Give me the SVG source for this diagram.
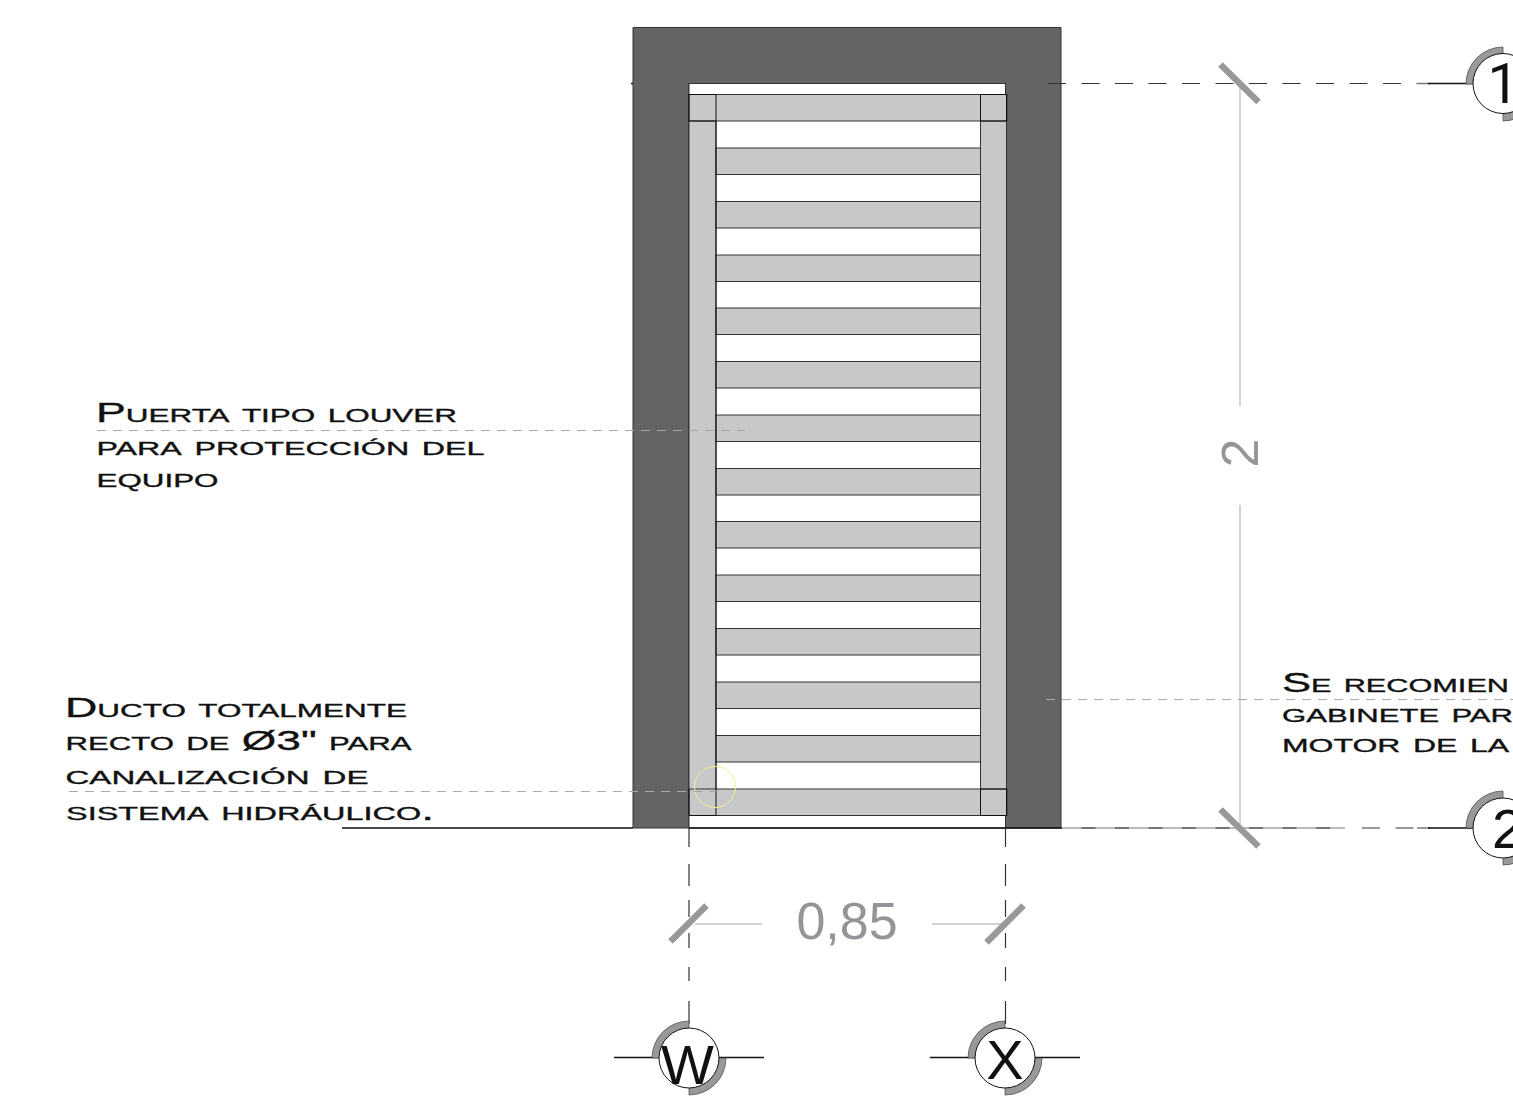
<svg xmlns="http://www.w3.org/2000/svg" width="1513" height="1120" viewBox="0 0 1513 1120">
<style>
.bar{fill:#c7c8ca;stroke:#333;stroke-width:1}
.thin{fill:none;stroke:#111;stroke-width:1}
.dashgray{fill:none;stroke:#777;stroke-width:1}
.dash{fill:none;stroke:#333;stroke-width:1.2}
.lead{fill:none;stroke:#a8a8a8;stroke-width:1;stroke-dasharray:9 7}
.dim{fill:none;stroke:#aaa;stroke-width:1}
.tick{fill:none;stroke:#999;stroke-width:6.500}
.note{font-family:"Liberation Sans",Arial,sans-serif;font-variant:small-caps;font-size:27px;fill:#111;stroke:#111;stroke-width:.35}
.tag{font-family:"Liberation Sans",Arial,sans-serif;font-size:56px;fill:#111}
.mid{text-anchor:middle}
.arc{fill:#999;stroke:#444;stroke-width:.7}
.bub{fill:#fff;stroke:#111;stroke-width:1}
.ax{fill:none;stroke:#111;stroke-width:1.500}
.axg{fill:none;stroke:#777;stroke-width:1.500}
</style>
<rect width="1513" height="1120" fill="#fff"/>
<g id="muro">
<path d="M633 27.500H1061V828H1005.500V83.500H689V828H633Z" fill="#636466" stroke="#333" stroke-width="1"/>
<rect x="689" y="83.500" width="316.500" height="744.500" fill="#fff" stroke="#333" stroke-width="1"/>
</g>
<g id="puerta">
<rect class="bar" x="689" y="94.500" width="27" height="721"/>
<rect class="bar" x="980.500" y="94.500" width="26" height="721"/>
<rect class="bar" x="689" y="94.500" width="318" height="26.500"/>
<rect class="bar" x="716" y="148" width="264.500" height="26.500"/>
<rect class="bar" x="716" y="201.500" width="264.500" height="26.500"/>
<rect class="bar" x="716" y="255" width="264.500" height="26.500"/>
<rect class="bar" x="716" y="308" width="264.500" height="26.500"/>
<rect class="bar" x="716" y="361.500" width="264.500" height="26.500"/>
<rect class="bar" x="716" y="415" width="264.500" height="26.500"/>
<rect class="bar" x="716" y="468.500" width="264.500" height="26.500"/>
<rect class="bar" x="716" y="521.500" width="264.500" height="26.500"/>
<rect class="bar" x="716" y="575" width="264.500" height="26.500"/>
<rect class="bar" x="716" y="628.500" width="264.500" height="26.500"/>
<rect class="bar" x="716" y="682" width="264.500" height="26.500"/>
<rect class="bar" x="716" y="735.500" width="264.500" height="26.500"/>
<rect class="bar" x="689" y="789" width="318" height="26.500"/>
<path class="thin" d="M689 94.500V121H716V94.500M689 94.500H716M716 121V815.500M980.500 94.500V121H1006.500V94.500H980.500M689 789V815.500H716M980.500 789V815.500H1006.500V789H980.500"/>
<circle cx="715" cy="787" r="20.500" fill="none" stroke="#f5f08a" stroke-width="1"/>
</g>
<g id="conectores">
<path class="ax" d="M342 828H633M689 828H1062M631 83.500H633"/>
<path class="dash" stroke-dasharray="18 15.500" d="M1048 83.500H1428"/>
<path class="dashgray" d="M1062 828H1345"/>
<path class="dash" stroke-dasharray="14 19.500" d="M1081.500 828H1345"/>
<path class="dash" stroke-dasharray="18 15.500" d="M1362 828H1428"/>
<path class="dash" d="M689 828V847M689 864V886M689 900V917M689 933V948M689 967V981M689 1001V1024"/>
<path class="dash" d="M1005.500 828V847M1005.500 864V886M1005.500 900V917M1005.500 933V948M1005.500 967V981M1005.500 1001V1024"/>
<path class="dim" d="M1240 83.500V406M1240 505V828"/>
<path class="dim" d="M695 924H762M932 924H1005.500"/>
<path class="tick" d="M1220.500 64.500L1258.500 102M1220.500 809.500L1258.500 846.500M670.500 941.500L706.500 905.500M986.500 942.500L1023.500 905.500"/>
<path class="lead" d="M97 430.500H745"/>
<path class="lead" d="M69 791.500H716"/>
<path class="lead" d="M1046 699.500H1513"/>
</g>
<g id="cota-085"><text x="847" y="939" font-family="'Liberation Sans',Arial,sans-serif" font-size="52" fill="#939598" text-anchor="middle">0,85</text></g>
<g id="cota-2"><text transform="translate(1258 453) rotate(-90)" font-family="'Liberation Sans',Arial,sans-serif" font-size="52" fill="#939598" text-anchor="middle">2</text></g>
<g id="nota-puerta">
<text class="note" x="96" y="421.500" textLength="361" lengthAdjust="spacingAndGlyphs">Puerta tipo louver</text>
<text class="note" x="96.500" y="454.500" textLength="388" lengthAdjust="spacingAndGlyphs">para protección del</text>
<text class="note" x="96.500" y="487" textLength="122" lengthAdjust="spacingAndGlyphs">equipo</text>
</g>
<g id="nota-ducto">
<text class="note" x="65" y="717" textLength="342" lengthAdjust="spacingAndGlyphs">Ducto totalmente</text>
<text class="note" x="65.500" y="749.500" textLength="346" lengthAdjust="spacingAndGlyphs">recto de Ø3" para</text>
<text class="note" x="65.500" y="784" textLength="303" lengthAdjust="spacingAndGlyphs">canalización de</text>
<text class="note" x="66" y="820" textLength="368" lengthAdjust="spacingAndGlyphs">sistema hidráulico.</text>
</g>
<g id="nota-gabinete">
<text class="note" x="1282" y="692" textLength="227" lengthAdjust="spacingAndGlyphs">Se recomien</text>
<text class="note" x="1282" y="721.500" textLength="231" lengthAdjust="spacingAndGlyphs">gabinete par</text>
<text class="note" x="1282" y="752" textLength="227" lengthAdjust="spacingAndGlyphs">motor de la</text>
</g>
<g id="eje-1">
<path class="axg" d="M1417 83.500H1430"/>
<path class="ax" d="M1428 83.500H1473"/>
<path class="arc" d="M1503 84H1466A37 37 0 0 1 1503 47ZM1503 84H1540A37 37 0 0 1 1503 121Z"/>
<circle class="bub" cx="1503" cy="83.500" r="30"/>
<text class="tag" x="1487.500" y="102.500" style="font-family:Roboto,'Liberation Sans',sans-serif">1</text>
</g>
<g id="eje-2">
<path class="axg" d="M1417 828H1430"/>
<path class="ax" d="M1428 828H1473"/>
<path class="arc" d="M1503 828H1466A37 37 0 0 1 1503 791ZM1503 828H1540A37 37 0 0 1 1503 865Z"/>
<circle class="bub" cx="1503" cy="828" r="30"/>
<text class="tag" x="1492" y="848">2</text>
</g>
<g id="eje-W">
<path class="ax" d="M614 1057.500H660M719 1057.500H764"/>
<path class="arc" d="M689 1058H652A37 37 0 0 1 689 1021ZM689 1058H726A37 37 0 0 1 689 1095Z"/>
<circle class="bub" cx="689" cy="1058" r="30"/>
<text class="tag mid" x="687.500" y="1084">W</text>
</g>
<g id="eje-X">
<path class="ax" d="M930 1057.500H976M1035 1057.500H1080"/>
<path class="arc" d="M1005 1058H968A37 37 0 0 1 1005 1021ZM1005 1058H1042A37 37 0 0 1 1005 1095Z"/>
<circle class="bub" cx="1005" cy="1058" r="30"/>
<text class="tag mid" x="1005" y="1078.500">X</text>
</g>
</svg>
